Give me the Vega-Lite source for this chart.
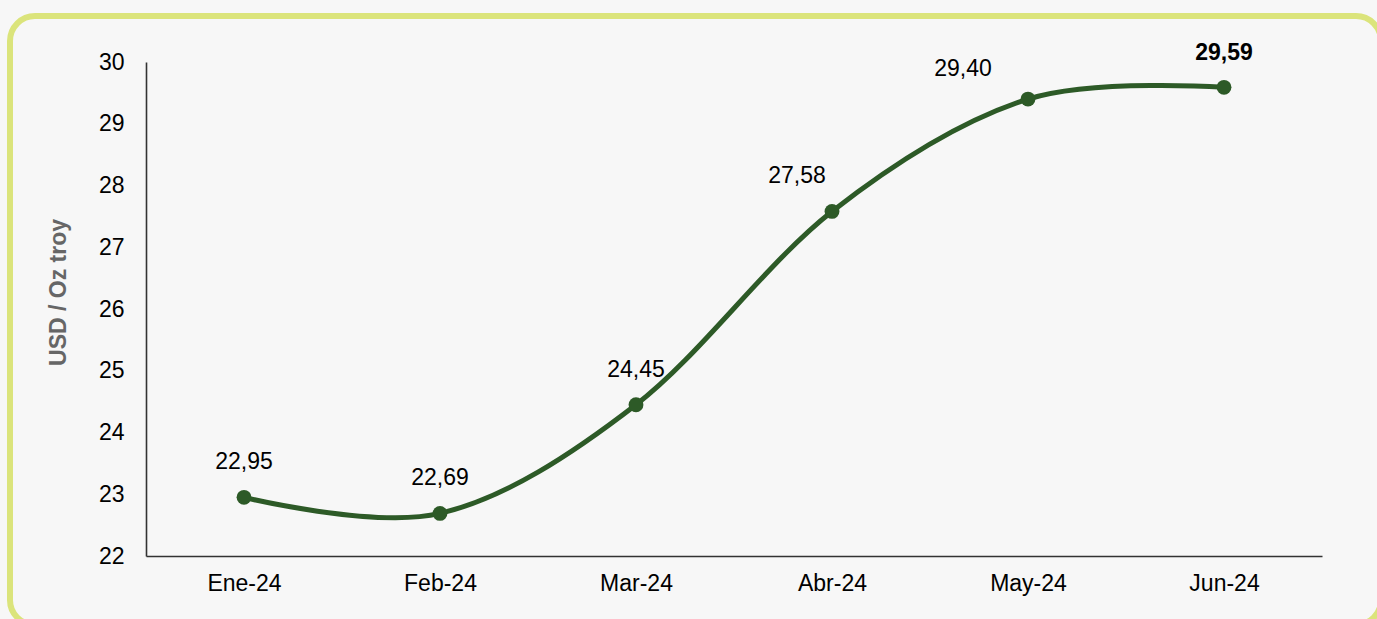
{
  "$schema": "https://vega.github.io/schema/vega-lite/v6.json",
  "width": 1371,
  "height": 609,
  "autosize": "none",
  "padding": {"left": 10, "top": 16, "right": 0, "bottom": 0},
  "background": "#f7f7f7",
  "config": {
    "view": {"stroke": "#dbe47b", "strokeWidth": 6, "cornerRadius": 25, "fill": "#f7f7f7"},
    "locale": {"number": {"decimal": ",", "thousands": ".", "grouping": [3], "currency": ["", ""]}},
    "font": "Liberation Sans"
  },
  "data": {
    "values": [
      {"mes": "Ene-24", "precio": 22.95},
      {"mes": "Feb-24", "precio": 22.69},
      {"mes": "Mar-24", "precio": 24.45},
      {"mes": "Abr-24", "precio": 27.58},
      {"mes": "May-24", "precio": 29.40},
      {"mes": "Jun-24", "precio": 29.59}
    ]
  },
  "encoding": {
    "x": {
      "field": "mes",
      "type": "ordinal",
      "sort": null,
      "scale": {"type": "point", "range": [136, 1312], "padding": 0.5},
      "axis": {
        "title": null,
        "orient": "bottom",
        "offset": -69,
        "labelAngle": 0,
        "labelFont": "Liberation Sans",
        "labelFontSize": 23,
        "labelColor": "#000000",
        "labelPadding": 16,
        "ticks": false,
        "grid": false,
        "domainColor": "#333333",
        "domainWidth": 1.6
      }
    },
    "y": {
      "field": "precio",
      "type": "quantitative",
      "scale": {"domain": [22, 30], "range": [540, 46], "nice": false, "zero": false},
      "axis": {
        "title": "USD / Oz troy",
        "orient": "left",
        "offset": -136,
        "values": [22, 23, 24, 25, 26, 27, 28, 29, 30],
        "format": "d",
        "labelFont": "Liberation Sans",
        "labelFontSize": 23,
        "labelColor": "#000000",
        "labelPadding": 22,
        "ticks": false,
        "grid": false,
        "domainColor": "#333333",
        "domainWidth": 1.6,
        "titleFont": "Liberation Sans",
        "titleFontSize": 23,
        "titleFontWeight": "bold",
        "titleColor": "#666666",
        "titleAngle": -90,
        "titleX": -88,
        "titleY": 276,
        "titleAlign": "center",
        "titleBaseline": "middle"
      }
    }
  },
  "layer": [
    {
      "mark": {"type": "line", "interpolate": "cardinal", "color": "#2d5a27", "strokeWidth": 5}
    },
    {
      "mark": {"type": "point", "filled": true, "color": "#2d5a27", "size": 220, "opacity": 1}
    },
    {
      "transform": [{"filter": "indexof(['Ene-24','Feb-24','Mar-24'], datum.mes) >= 0"}],
      "mark": {"type": "text", "dy": -35, "fontSize": 23, "font": "Liberation Sans", "color": "#000000", "baseline": "middle", "align": "center"},
      "encoding": {"text": {"field": "precio", "type": "quantitative", "format": ".2f"}}
    },
    {
      "transform": [{"filter": "datum.mes === 'Abr-24'"}],
      "mark": {"type": "text", "dx": -35, "dy": -35, "fontSize": 23, "font": "Liberation Sans", "color": "#000000", "baseline": "middle", "align": "center"},
      "encoding": {"text": {"field": "precio", "type": "quantitative", "format": ".2f"}}
    },
    {
      "transform": [{"filter": "datum.mes === 'May-24'"}],
      "mark": {"type": "text", "dx": -65, "dy": -30, "fontSize": 23, "font": "Liberation Sans", "color": "#000000", "baseline": "middle", "align": "center"},
      "encoding": {"text": {"field": "precio", "type": "quantitative", "format": ".2f"}}
    },
    {
      "transform": [{"filter": "datum.mes === 'Jun-24'"}],
      "mark": {"type": "text", "dy": -34, "fontSize": 23, "fontWeight": "bold", "font": "Liberation Sans", "color": "#000000", "baseline": "middle", "align": "center"},
      "encoding": {"text": {"field": "precio", "type": "quantitative", "format": ".2f"}}
    }
  ]
}
